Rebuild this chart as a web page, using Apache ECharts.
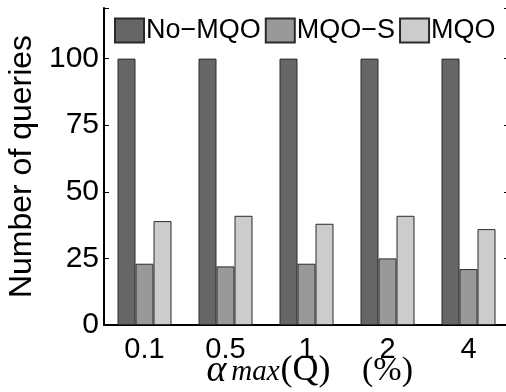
<!DOCTYPE html>
<html>
<head>
<meta charset="utf-8">
<script src="https://cdn.jsdelivr.net/npm/echarts@6/dist/echarts.min.js"></script>
<style>
  html, body { margin: 0; padding: 0; background: #fff; }
  #chart { width: 506px; height: 392px; }
</style>
</head>
<body>
<div id="chart"></div>
<script>
// Threshold values on the x axis (percent)
const categories = ['0.1', '0.5', '1', '2', '4'];
// Number of queries per method
const noMqo = [100, 100, 100, 100, 100];
const mqoS = [23, 22, 23, 25, 21];
const mqo = [39, 41, 38, 41, 36];
const seriesNames = ['No\u2212MQO', 'MQO\u2212S', 'MQO'];
const yTicks = [0, 25, 50, 75, 100];

const sans = 'Liberation Sans, Arial, Helvetica, sans-serif';
const serif = 'Liberation Serif, Times New Roman, serif';

const chart = echarts.init(document.getElementById('chart'), null, { renderer: 'canvas' });

function barSeries(name, data, color) {
  return {
    name: name,
    type: 'bar',
    data: data,
    barWidth: 18,
    barGap: '0%',
    itemStyle: { color: color, borderColor: '#2a2a2a', borderWidth: 1 },
    emphasis: { disabled: true }
  };
}

chart.setOption({
  animation: false,
  grid: { left: 104, top: 8, width: 405, height: 317, containLabel: false, outerBoundsMode: 'none' },
  legend: {
    left: 114,
    top: 17,
    icon: 'rect',
    itemWidth: 29,
    itemHeight: 24,
    itemGap: 4,
    padding: 0,
    textStyle: { fontFamily: sans, fontSize: 27, color: '#000', padding: [0, 0, 0, -3] },
    data: seriesNames
  },
  xAxis: [
    {
      type: 'category',
      data: categories,
      position: 'bottom',
      axisLine: { lineStyle: { color: '#000', width: 2 } },
      axisTick: { show: false },
      axisLabel: { fontFamily: sans, fontSize: 29, color: '#000', margin: 10 },
      name: '{a|\u03b1}{s|max}{b|(Q)}{g|}{c|(%)}',
      nameLocation: 'middle',
      nameGap: 27,
      nameMoveOverlap: false,
      nameTextStyle: {
        rich: {
          a: { fontFamily: serif, fontStyle: 'italic', fontSize: 38, color: '#000', width: 28, align: 'right' },
          s: { fontFamily: serif, fontStyle: 'italic', fontSize: 29, color: '#000', width: 50, align: 'center', padding: [3, 0, 0, 0] },
          b: { fontFamily: serif, fontSize: 36, color: '#000', width: 50, align: 'center' },
          g: { width: 34 },
          c: { fontFamily: serif, fontSize: 34, color: '#000', width: 46, align: 'center' }
        }
      }
    },
    {
      type: 'category',
      data: categories,
      position: 'top',
      axisLine: { lineStyle: { color: '#000', width: 1 } },
      axisTick: { inside: true, length: 5, alignWithLabel: true, lineStyle: { color: '#000' } },
      axisLabel: { show: false }
    }
  ],
  yAxis: [
    {
      type: 'value',
      min: 0,
      max: 119,
      interval: 25,
      name: 'Number of queries',
      nameLocation: 'middle',
      nameGap: 64,
      nameTextStyle: { fontFamily: sans, fontSize: 32, color: '#000' },
      axisLine: { show: true, lineStyle: { color: '#000', width: 2 } },
      axisTick: { show: true, inside: true, length: 5, lineStyle: { color: '#000' } },
      axisLabel: {
        fontFamily: sans, fontSize: 30, color: '#000', margin: 5,
        formatter: v => (yTicks.indexOf(v) >= 0 ? String(v) : '')
      },
      splitLine: { show: false }
    },
    {
      type: 'value',
      min: 0,
      max: 119,
      interval: 25,
      position: 'right',
      axisLine: { show: true, lineStyle: { color: '#000', width: 1 } },
      axisTick: { show: true, inside: true, length: 5, lineStyle: { color: '#000' } },
      axisLabel: { show: false },
      splitLine: { show: false }
    }
  ],
  series: [
    barSeries(seriesNames[0], noMqo, '#666666'),
    barSeries(seriesNames[1], mqoS, '#999999'),
    barSeries(seriesNames[2], mqo, '#cccccc')
  ]
});
</script>
</body>
</html>
